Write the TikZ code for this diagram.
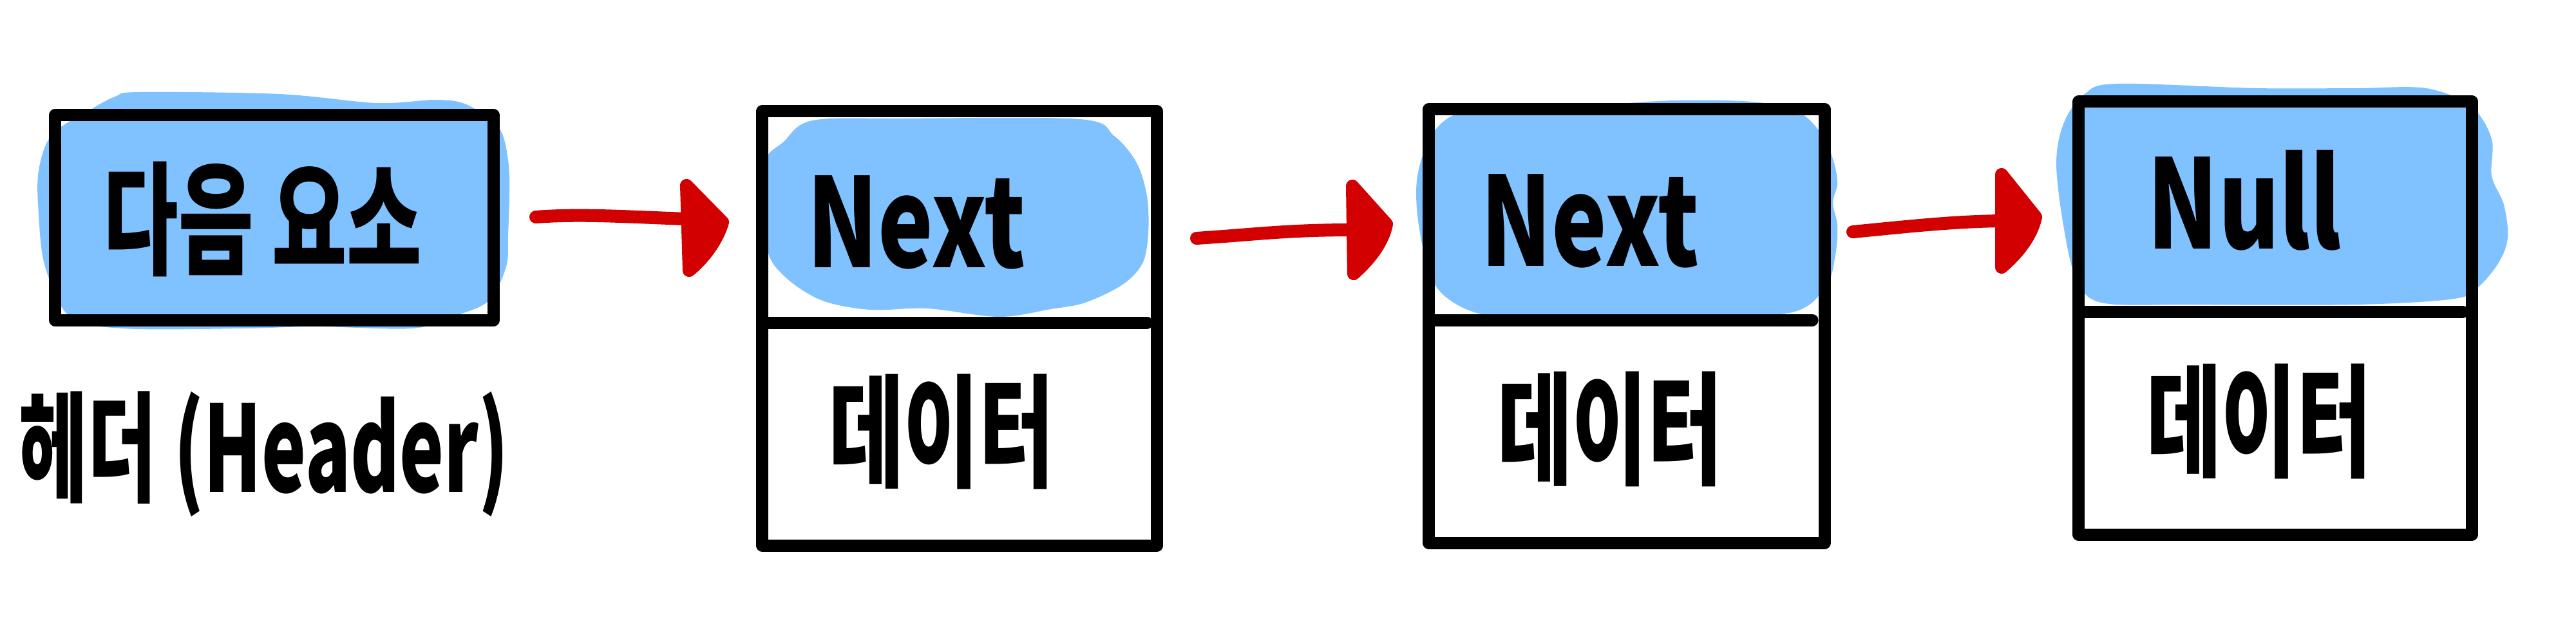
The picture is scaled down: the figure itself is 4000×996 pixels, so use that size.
\documentclass[tikz,border=0pt]{standalone}
\usepackage{fontspec}
\setmainfont{Noto Sans CJK KR}
\definecolor{blobblue}{RGB}{128,193,255}
\definecolor{penred}{RGB}{210,0,0}
\tikzset{
  blob/.style={fill=blobblue, draw=none},
  boxframe/.style={rectangle, draw=black, line width=5.4pt, line join=round, inner sep=0pt, outer sep=0pt},
  divline/.style={draw=black, line width=5.4pt, line cap=round},
  shaft/.style={draw=penred, line width=5.7pt, line cap=round, line join=round},
  head/.style={draw=penred, fill=penred, line width=5.7pt, line join=round},
  kor/.style={inner sep=0pt, font=\fontsize{36}{40}\selectfont\bfseries},
  korlab/.style={inner sep=0pt, font=\fontsize{33}{37}\selectfont\bfseries},
  lat/.style={inner sep=0pt, font=\fontsize{41}{46}\selectfont\bfseries}
}
\begin{document}
\begin{tikzpicture}[x=0.01cm, y=-0.01cm]
\fill[white] (0,0) rectangle (4000,996);
\useasboundingbox (0,0) rectangle (4000,996);

% blue highlight blobs
\fill[blob] plot[smooth cycle, tension=0.55] coordinates {(217,143) (434,146) (585,160) (678,155) (726,163) (775,199) (789,249) (791,299) (789,365) (786,414) (759,467) (705,491) (640,510) (488,507) (379,510) (190,510) (108,491) (70,414) (60,332) (60,265) (81,209) (141,170) (179,150)};
\fill[blob] plot[smooth cycle, tension=0.55] coordinates {(1186,258) (1217,220) (1262,187) (1400,184) (1676,185) (1730,211) (1765,253) (1781,305) (1783,362) (1774,409) (1743,442) (1685,470) (1632,480) (1551,492) (1440,479) (1351,481) (1275,466) (1217,428) (1190,381)};
\fill[blob] plot[smooth cycle, tension=0.55] coordinates {(2201,273) (2230,200) (2290,170) (2450,165) (2600,156) (2720,158) (2790,172) (2830,210) (2847,250) (2853,285) (2846,315) (2853,350) (2850,395) (2835,445) (2778,486) (2600,490) (2383,489) (2293,486) (2230,445) (2204,356)};
\fill[blob] plot[smooth cycle, tension=0.55] coordinates {(3288,130) (3505,137) (3658,137) (3767,137) (3837,165) (3869,216) (3869,273) (3888,318) (3894,368) (3881,406) (3849,445) (3811,464) (3658,473) (3403,473) (3263,470) (3224,432) (3205,356) (3193,254) (3205,190) (3237,146)};

% boxes
\node[boxframe, minimum width=6.8cm, minimum height=3.18cm] (hdr) at (426,338) {};
\node[boxframe, minimum width=6.12cm, minimum height=6.74cm] (n1) at (1490,510) {};
\node[boxframe, minimum width=6.14cm, minimum height=6.73cm] (n2) at (2526,506.5) {};
\node[boxframe, minimum width=6.10cm, minimum height=6.72cm] (n3) at (3533,494) {};

% dividers
\draw[divline] (1184,501) -- (1781,501);
\draw[divline] (2219,497) -- (2814,497);
\draw[divline] (3228,484) -- (3824,484);

% texts
\node[kor] (thdr) at (408,340) {\scalebox{1}[1.5]{다음 요소}};
\node[korlab] (lhdr) at (410,705) {\scalebox{1}[1.6]{헤더 (Header)}};
\node[lat] (tn1) at (1423,345) {\scalebox{1}[1.33]{Next}};
\node[kor] (d1) at (1462,670) {\scalebox{1}[1.5]{데이터}};
\node[lat] (tn2) at (2469,343) {\scalebox{1}[1.33]{Next}};
\node[kor] (d2) at (2500,666) {\scalebox{1}[1.5]{데이터}};
\node[lat] (tn3) at (3485,311) {\scalebox{1}[1.33]{Null}};
\node[kor] (d3) at (3508,654) {\scalebox{1}[1.5]{데이터}};

% arrows
\coordinate (a1s) at (832,337);
\coordinate (a1e) at (1066,340);
\coordinate (a2s) at (1858,370);
\coordinate (a2e) at (2100,357);
\coordinate (a3s) at (2877,360);
\coordinate (a3e) at (3108,343);

\draw[shaft] (a1s) .. controls (900,332) and (960,336) .. (a1e);
\draw[head] (1066,288) -- (1122,345) .. controls (1115,370) and (1095,400) .. (1070,420) -- cycle;

\draw[shaft] (a2s) .. controls (1950,364) and (2000,357) .. (a2e);
\draw[head] (2100,289) -- (2153,348) .. controls (2148,375) and (2128,402) .. (2102,425) -- cycle;

\draw[shaft] (a3s) .. controls (2960,352) and (3030,344) .. (a3e);
\draw[head] (3108,271) -- (3161,337) .. controls (3155,365) and (3135,392) .. (3108,415) -- cycle;
\end{tikzpicture}
\end{document}
